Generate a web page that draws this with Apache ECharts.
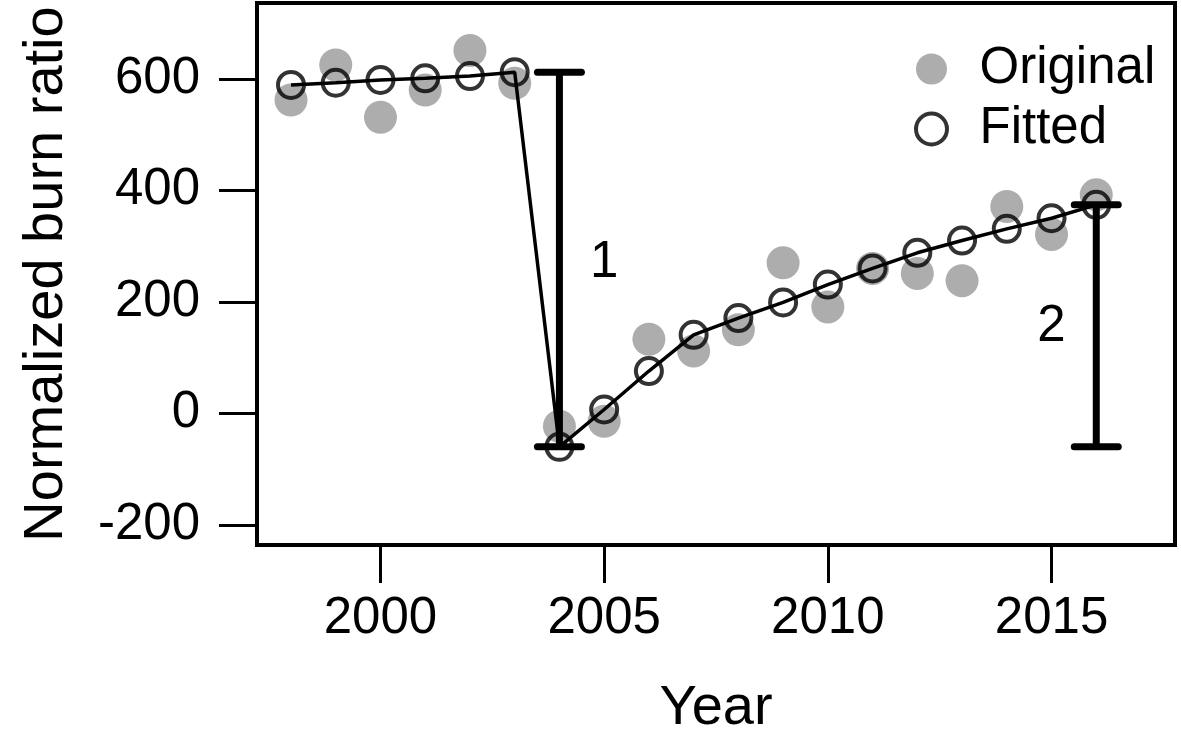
<!DOCTYPE html>
<html>
<head>
<meta charset="utf-8">
<script src="https://cdn.jsdelivr.net/npm/echarts@6/dist/echarts.min.js"></script>
<style>
html,body{margin:0;padding:0;background:#fff;}
#chart{width:1181px;height:749px;}
</style>
</head>
<body>
<div id="chart"></div>
<script>
var years = [1998,1999,2000,2001,2002,2003,2004,2005,2006,2007,2008,2009,2010,2011,2012,2013,2014,2015,2016];
var original = [562,625,531,580,651,592,-23,-14,133,112,150,270,191,260,251,238,371,321,392];
var fitted = [589,593,598,601,605,612,-60,7,76,141,171,199,231,260,288,310,331,350,374];
// [year, low, high]
var errorBars = [[2004,-60,612],[2016,-60,374]];
// [year, value, text]
var annotations = [[2005,270,'1'],[2015,155,'2']];
var xTicks = [2000,2005,2010,2015];
var yTicks = [-200,0,200,400,600];

var FONT = '"Liberation Sans", Arial, Helvetica, sans-serif';
function pairs(xs, ys){ return xs.map(function(x,i){ return [x, ys[i]]; }); }

var chart = echarts.init(document.getElementById('chart'), null, {renderer:'canvas'});
chart.setOption({
  animation:false,
  backgroundColor:'#fff',
  grid:{left:257, right:6, top:3, bottom:204, show:true, borderColor:'#000', borderWidth:4, backgroundColor:'transparent'},
  legend:{
    orient:'vertical', left:909, top:38, itemWidth:86, itemHeight:31, itemGap:8,
    textStyle:{fontFamily:FONT, fontSize:51, color:'#000', lineHeight:52},
    data:[
      {name:'Original', icon:'circle', itemStyle:{color:'#999999', borderWidth:0}},
      {name:'Fitted', icon:'circle', itemStyle:{color:'transparent', borderColor:'#000', borderWidth:4}}
    ]
  },
  xAxis:{
    type:'value', min:1997.24, max:2017.76,
    name:'Year', nameLocation:'middle', nameGap:136,
    nameTextStyle:{fontFamily:FONT, fontSize:56, color:'#000'},
    splitLine:{show:false},
    axisLine:{show:false, onZero:false},
    axisTick:{show:true, length:38, lineStyle:{color:'#000', width:3}, customValues:xTicks},
    axisLabel:{fontFamily:FONT, fontSize:51, color:'#000', margin:48, customValues:xTicks,
      formatter:function(v){ return String(v); }}
  },
  yAxis:{
    type:'value', min:-236, max:736,
    name:'Normalized burn ratio', nameLocation:'middle', nameGap:182, nameRotate:90,
    nameTextStyle:{fontFamily:FONT, fontSize:56, color:'#000'},
    splitLine:{show:false},
    axisLine:{show:false, onZero:false},
    axisTick:{show:true, length:38, lineStyle:{color:'#000', width:3}, customValues:yTicks},
    axisLabel:{fontFamily:FONT, fontSize:51, color:'#000', margin:57, customValues:yTicks,
      formatter:function(v){ return String(v); }}
  },
  series:[
    {
      name:'Original', type:'scatter', data:pairs(years, original),
      symbol:'circle', symbolSize:33, itemStyle:{color:'#999999'}, z:2
    },
    {
      name:'FittedLine', type:'line', data:pairs(years, fitted),
      showSymbol:false, symbol:'none', lineStyle:{color:'#000', width:3.5}, z:3
    },
    {
      name:'Fitted', type:'scatter', data:pairs(years, fitted),
      symbol:'circle', symbolSize:26,
      itemStyle:{color:'transparent', borderColor:'#000', borderWidth:4}, z:4
    },
    {
      name:'Bars', type:'custom', data:errorBars, z:5,
      renderItem:function(params, api){
        var x = api.value(0), lo = api.value(1), hi = api.value(2);
        var a = api.coord([x, lo]), b = api.coord([x, hi]);
        var hw = 22;
        var st = {stroke:'#000', lineWidth:7, lineCap:'round'};
        return {type:'group', children:[
          {type:'line', shape:{x1:a[0], y1:a[1], x2:b[0], y2:b[1]}, style:{stroke:'#000', lineWidth:7}},
          {type:'line', shape:{x1:a[0]-hw, y1:a[1], x2:a[0]+hw, y2:a[1]}, style:st},
          {type:'line', shape:{x1:b[0]-hw, y1:b[1], x2:b[0]+hw, y2:b[1]}, style:st}
        ]};
      }
    },
    {
      name:'Labels', type:'custom', data:annotations, z:6,
      renderItem:function(params, api){
        var p = api.coord([api.value(0), api.value(1)]);
        return {type:'text', x:p[0], y:p[1], style:{
          text:annotations[params.dataIndex][2], fontFamily:FONT, fontSize:51,
          fill:'#000', align:'center', verticalAlign:'middle'
        }};
      }
    }
  ]
});
</script>
</body>
</html>
